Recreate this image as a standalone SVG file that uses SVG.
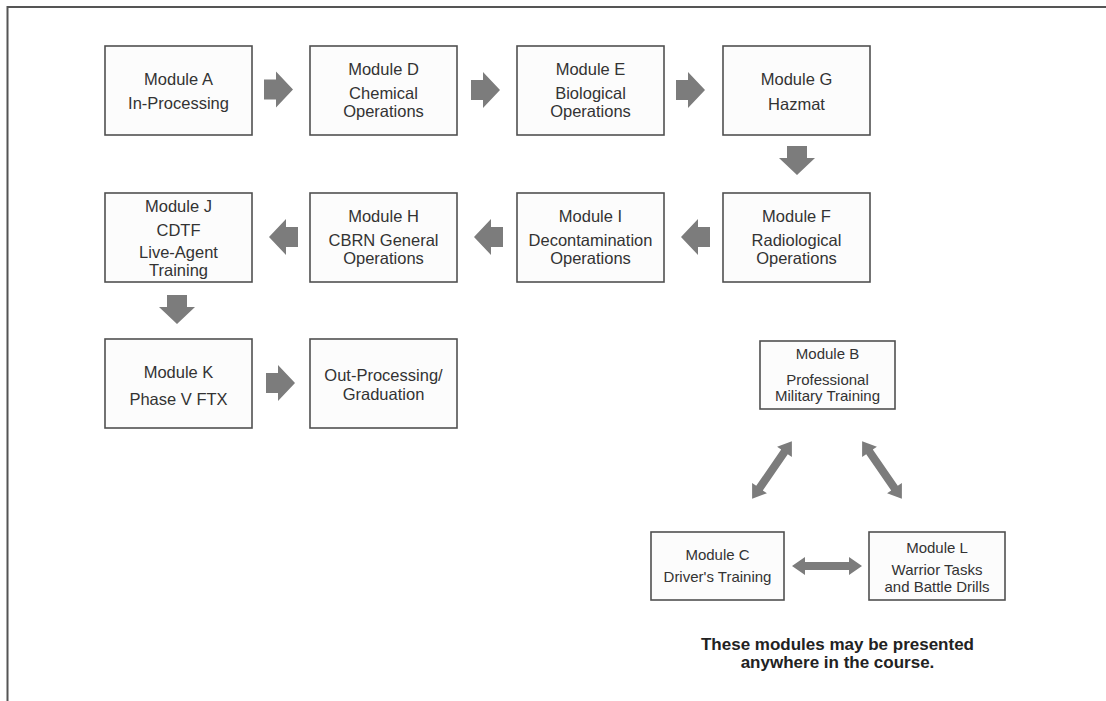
<svg xmlns="http://www.w3.org/2000/svg" xmlns:xlink="http://www.w3.org/1999/xlink" width="1106" height="701" viewBox="0 0 1106 701">
<style>
.box{fill:#fcfcfc;stroke:#505050;stroke-width:1.6}
.t{font-family:"Liberation Sans",Arial,sans-serif;font-size:16.5px;fill:#333;text-anchor:middle}
.s{font-family:"Liberation Sans",Arial,sans-serif;font-size:15px;fill:#333;text-anchor:middle}
.note{font-family:"Liberation Sans",Arial,sans-serif;font-size:17px;font-weight:bold;fill:#222;text-anchor:middle}
.blk{fill:#7c7c7c}
.dbl{fill:#7c7c7c}
.frame{stroke:#555;stroke-width:2;fill:none}
</style>
<defs>
<polygon id="barrow" points="0,-10 12,-10 12,-18 29,0 12,18 12,10 0,10"/>
<polygon id="darrow" points="-35,0 -22,-9 -22,-4 22,-4 22,-9 35,0 22,9 22,4 -22,4 -22,9"/>
</defs>
<rect width="1106" height="701" fill="#fff"/>
<path class="frame" d="M7.5,701 V7 H1106"/>

<g id="connectors">
<use xlink:href="#barrow" class="blk" transform="translate(264,89.5)"/>
<use xlink:href="#barrow" class="blk" transform="translate(471,90)"/>
<use xlink:href="#barrow" class="blk" transform="translate(676,90)"/>
<use xlink:href="#barrow" class="blk" transform="translate(797,146) rotate(90)"/>
<use xlink:href="#barrow" class="blk" transform="translate(710,237) rotate(180)"/>
<use xlink:href="#barrow" class="blk" transform="translate(503,237) rotate(180)"/>
<use xlink:href="#barrow" class="blk" transform="translate(298,237) rotate(180)"/>
<use xlink:href="#barrow" class="blk" transform="translate(177,295) rotate(90)"/>
<use xlink:href="#barrow" class="blk" transform="translate(266,383)"/>
<use xlink:href="#darrow" class="dbl" transform="translate(772,470) rotate(-55.4)"/>
<use xlink:href="#darrow" class="dbl" transform="translate(882,470) rotate(55.4)"/>
<use xlink:href="#darrow" class="dbl" transform="translate(827,566)"/>
</g>

<g id="moduleA">
<rect class="box" x="105" y="46" width="147" height="89"/>
<text class="t" x="178.5" y="85">Module A</text>
<text class="t" x="178.5" y="109">In-Processing</text>
</g>
<g id="moduleD">
<rect class="box" x="310" y="46" width="147" height="89"/>
<text class="t" x="383.5" y="75">Module D</text>
<text class="t" x="383.5" y="99">Chemical</text>
<text class="t" x="383.5" y="116.5">Operations</text>
</g>
<g id="moduleE">
<rect class="box" x="517" y="46" width="147" height="89"/>
<text class="t" x="590.5" y="75">Module E</text>
<text class="t" x="590.5" y="99">Biological</text>
<text class="t" x="590.5" y="116.5">Operations</text>
</g>
<g id="moduleG">
<rect class="box" x="723" y="46" width="147" height="89"/>
<text class="t" x="796.5" y="85">Module G</text>
<text class="t" x="796.5" y="110">Hazmat</text>
</g>
<g id="moduleJ">
<rect class="box" x="105" y="193" width="147" height="89"/>
<text class="t" x="178.5" y="212">Module J</text>
<text class="t" x="178.5" y="236">CDTF</text>
<text class="t" x="178.5" y="258">Live-Agent</text>
<text class="t" x="178.5" y="275.5">Training</text>
</g>
<g id="moduleH">
<rect class="box" x="310" y="193" width="147" height="89"/>
<text class="t" x="383.5" y="222">Module H</text>
<text class="t" x="383.5" y="246">CBRN General</text>
<text class="t" x="383.5" y="263.5">Operations</text>
</g>
<g id="moduleI">
<rect class="box" x="517" y="193" width="147" height="89"/>
<text class="t" x="590.5" y="222">Module I</text>
<text class="t" x="590.5" y="246">Decontamination</text>
<text class="t" x="590.5" y="263.5">Operations</text>
</g>
<g id="moduleF">
<rect class="box" x="723" y="193" width="147" height="89"/>
<text class="t" x="796.5" y="222">Module F</text>
<text class="t" x="796.5" y="246">Radiological</text>
<text class="t" x="796.5" y="263.5">Operations</text>
</g>
<g id="moduleK">
<rect class="box" x="105" y="339" width="147" height="89"/>
<text class="t" x="178.5" y="378">Module K</text>
<text class="t" x="178.5" y="405">Phase V FTX</text>
</g>
<g id="outProcessing">
<rect class="box" x="310" y="339" width="147" height="89"/>
<text class="t" x="383.5" y="381">Out-Processing/</text>
<text class="t" x="383.5" y="400">Graduation</text>
</g>
<g id="moduleB">
<rect class="box" x="760" y="341" width="135" height="68"/>
<text class="s" x="827.5" y="359">Module B</text>
<text class="s" x="827.5" y="385">Professional</text>
<text class="s" x="827.5" y="401">Military Training</text>
</g>
<g id="moduleC">
<rect class="box" x="651" y="532" width="133" height="68"/>
<text class="s" x="717.5" y="560">Module C</text>
<text class="s" x="717.5" y="582">Driver's Training</text>
</g>
<g id="moduleL">
<rect class="box" x="869" y="532" width="136" height="68"/>
<text class="s" x="937" y="553">Module L</text>
<text class="s" x="937" y="575">Warrior Tasks</text>
<text class="s" x="937" y="592">and Battle Drills</text>
</g>
<g id="note">
<text class="note" x="837.5" y="650">These modules may be presented</text>
<text class="note" x="837.5" y="668">anywhere in the course.</text>
</g>
</svg>
